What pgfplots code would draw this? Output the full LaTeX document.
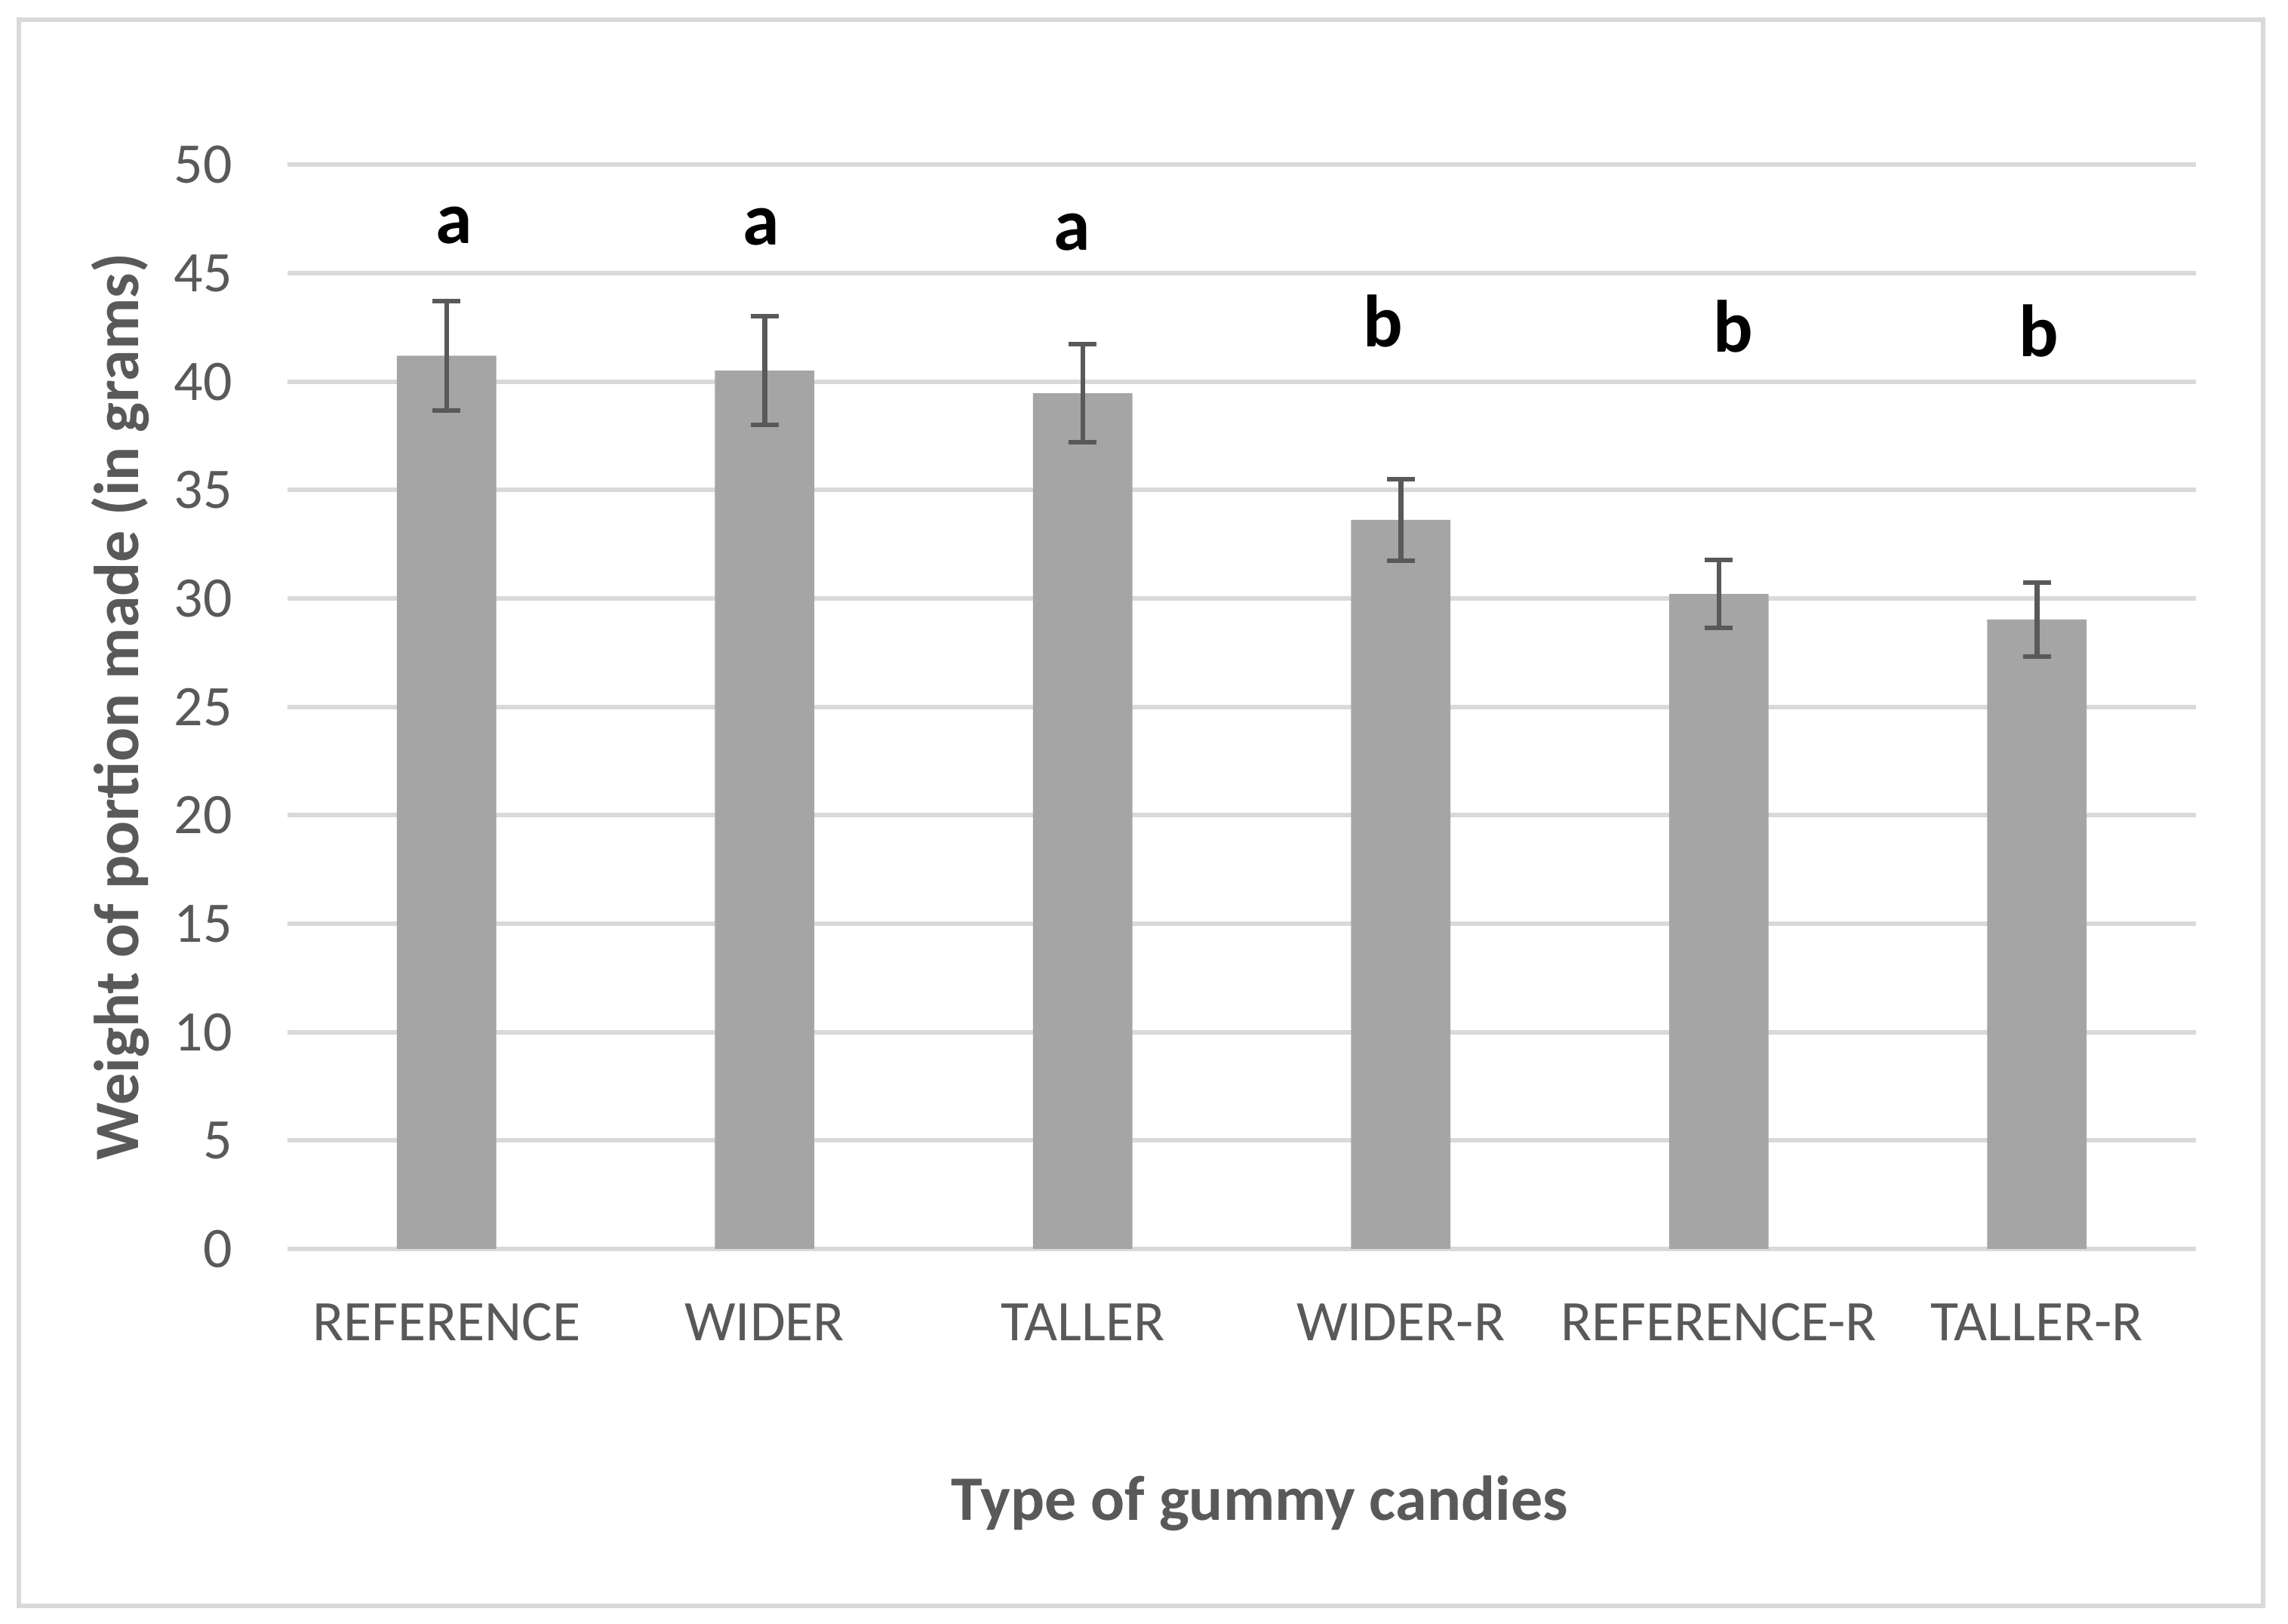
\documentclass[border=0pt]{standalone}
\usepackage{pgfplots}
\pgfplotsset{compat=1.18}
\usepackage{fontspec}
\setmainfont{Carlito}
\definecolor{txt}{HTML}{595959}
\definecolor{barc}{HTML}{A5A5A5}
\definecolor{gridc}{HTML}{D9D9D9}
\definecolor{errc}{HTML}{595959}
\begin{document}
\begin{tikzpicture}
\useasboundingbox (0,0) rectangle (606.4bp,430.4bp);
\draw[gridc, line width=1.2bp] (5.0bp,4.8bp) rectangle (599.8bp,425.1bp);
\begin{axis}[
  at={(76.2bp,99.4bp)}, anchor=south west,
  scale only axis, width=505.8bp, height=287.3bp,
  xmin=-0.5, xmax=5.5, ymin=0, ymax=50,
  ytick={0,5,...,50},
  xtick={0,1,2,3,4,5},
  xticklabels={REFERENCE,WIDER,TALLER,WIDER-R,REFERENCE-R,TALLER-R},
  axis line style={draw=none},
  major tick length=0pt,
  ymajorgrids, grid style={gridc, line width=1.2bp},
  /pgf/number format/assume math mode=true,
  ticklabel style={font=\fontsize{15.2bp}{18bp}\selectfont, text=txt},
  xticklabel style={anchor=base, yshift=-24.4bp},
  yticklabel style={anchor=east, inner sep=0pt, xshift=-14.4bp},
  ylabel={Weight of portion made (in grams)},
  xlabel={Type of gummy candies},
  ylabel style={at={(axis description cs:-0.0878,0.5)}, anchor=center, rotate=0, font=\fontsize{16.8bp}{20bp}\selectfont\bfseries, text=txt},
  xlabel style={at={(axis description cs:0.5093,-0.2346)}, anchor=center, font=\fontsize{16.8bp}{20bp}\selectfont\bfseries, text=txt},
  clip=false,
]
\addplot[ybar, bar width=0.313, fill=barc, draw=none,
  error bars/.cd, y dir=both, y explicit,
  error bar style={errc, line width=1.3bp},
  error mark options={rotate=90, errc, line width=1.2bp, mark size=3.7bp}]
  coordinates {
    (0,41.20) +- (0,2.53)
    (1,40.51) +- (0,2.51)
    (2,39.47) +- (0,2.25)
    (3,33.63) +- (0,1.87)
    (4,30.21) +- (0,1.56)
    (5,29.03) +- (0,1.70)
  };
\addplot[only marks, mark=none,
  nodes near coords, point meta=explicit symbolic,
  every node near coord/.append style={anchor=center, font=\fontsize{19.6bp}{22bp}\selectfont\bfseries, text=black}]
  coordinates {
    (0.024,47.21) [a]
    (0.988,47.15) [a]
    (1.967,46.89) [a]
    (2.944,42.81) [b]
    (4.046,42.54) [b]
    (5.006,42.33) [b]
  };
\end{axis}
\end{tikzpicture}
\end{document}
